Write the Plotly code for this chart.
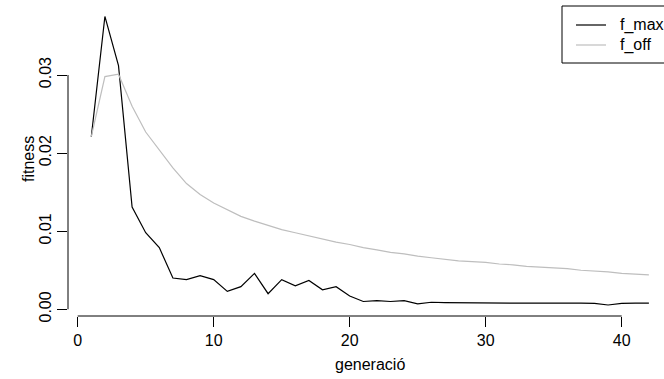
import plotly.graph_objects as go

generacio = list(range(1, 43))
f_max = [0.0221, 0.0375, 0.0312, 0.0131, 0.0098, 0.0079, 0.0040, 0.0038, 0.0043, 0.0038,
         0.0023, 0.0029, 0.0046, 0.0020, 0.0038, 0.0030, 0.0037, 0.0025, 0.0029, 0.0017,
         0.0010, 0.0011, 0.0010, 0.0011, 0.0007, 0.0009, 0.00085, 0.00082, 0.00080, 0.00083,
         0.00080, 0.00078, 0.00080, 0.00082, 0.00079, 0.00080, 0.00078, 0.00076, 0.00055, 0.00075,
         0.00078, 0.00078]
f_off = [0.0221, 0.0298, 0.0301, 0.0260, 0.0227, 0.0204, 0.0181, 0.0161, 0.0147, 0.0136,
         0.0127, 0.0119, 0.0113, 0.0107, 0.0102, 0.0098, 0.0094, 0.0090, 0.0086, 0.0083,
         0.0079, 0.0076, 0.0073, 0.0071, 0.0068, 0.0066, 0.0064, 0.0062, 0.0061, 0.0060,
         0.0058, 0.0057, 0.0055, 0.0054, 0.0053, 0.0052, 0.0050, 0.0049, 0.0048, 0.0046,
         0.0045, 0.0044]
x_ticks = [0, 10, 20, 30, 40]
y_ticks = [0.00, 0.01, 0.02, 0.03]
y_ticklabels = ["0.00", "0.01", "0.02", "0.03"]
series_names = ["f_max", "f_off"]
series_colors = ["black", "#BEBEBE"]

W, H = 664, 379
L, R, T, B = 68, 0, 6, 63
PW, PH = W - L - R, H - T - B
FONT = "Liberation Sans, Arial, Helvetica, sans-serif"
FS = 16

def px_x(px):
    return (px - L) / PW

def px_y(py):
    return (H - B - py) / PH

fig = go.Figure()
for name, vals, col in zip(series_names, [f_max, f_off], series_colors):
    fig.add_trace(go.Scatter(x=generacio, y=vals, mode="lines", name=name,
                             line=dict(color=col, width=1.2), showlegend=False))

fig.update_layout(
    width=W, height=H,
    margin=dict(l=L, r=R, t=T, b=B, pad=0),
    paper_bgcolor="white", plot_bgcolor="white",
    font=dict(family=FONT, size=FS, color="black"),
    xaxis=dict(range=[-0.713, 43.11], tickvals=x_ticks, ticks="outside", ticklen=10,
               tickcolor="black", tickwidth=1, showgrid=False, zeroline=False,
               showline=False, tickfont=dict(size=FS)),
    yaxis=dict(range=[-0.000858, 0.03884], tickvals=y_ticks, ticktext=y_ticklabels,
               ticks="outside", ticklen=10, tickcolor="black", tickwidth=1,
               showgrid=False, zeroline=False, showline=False, tickangle=-90,
               tickfont=dict(size=FS)),
)

# R-style axis lines spanning first to last tick
fig.add_shape(type="line", xref="x", yref="paper", x0=x_ticks[0], x1=x_ticks[-1], y0=0, y1=0,
              line=dict(color="black", width=1))
fig.add_shape(type="line", xref="paper", yref="y", x0=0, x1=0, y0=y_ticks[0], y1=y_ticks[-1],
              line=dict(color="black", width=1))

# axis titles
fig.add_annotation(text="generació", xref="paper", yref="paper", x=px_x(370), y=px_y(365),
                   showarrow=False, xanchor="center", yanchor="middle", font=dict(size=FS))
fig.add_annotation(text="fitness", xref="paper", yref="paper", x=px_x(28), y=px_y(159),
                   showarrow=False, xanchor="center", yanchor="middle", textangle=-90,
                   font=dict(size=FS))

# legend box (top-right, as in R)
fig.add_shape(type="rect", xref="paper", yref="paper", x0=px_x(562), x1=px_x(675),
              y0=px_y(63), y1=px_y(6), line=dict(color="black", width=1), fillcolor="white",
              layer="above")
for i, (name, col) in enumerate(zip(series_names, series_colors)):
    yy = 25 + 20 * i
    fig.add_shape(type="line", xref="paper", yref="paper", x0=px_x(576), x1=px_x(606),
                  y0=px_y(yy), y1=px_y(yy), line=dict(color=col, width=1.2), layer="above")
    fig.add_annotation(text=name, xref="paper", yref="paper", x=px_x(618), y=px_y(yy),
                       showarrow=False, xanchor="left", yanchor="middle", font=dict(size=FS))

fig.write_html("out.html", config={"displayModeBar": False},
               post_script="document.body.style.margin='0';document.body.style.overflow='hidden';")
